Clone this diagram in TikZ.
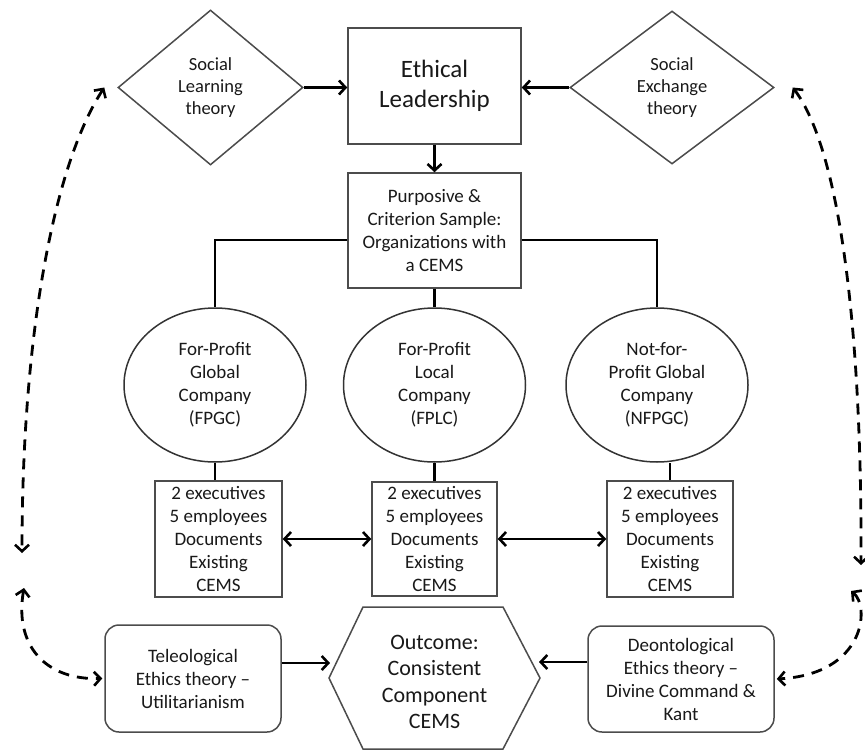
\documentclass[tikz,border=0pt]{standalone}
\usepackage{fontspec}
\setmainfont{Carlito}
\usetikzlibrary{shapes.geometric,arrows.meta,calc}
\begin{document}
\begin{tikzpicture}[x=1pt,y=-1pt,
  txt/.style={align=center,inner sep=0pt,text=black!90,font=\fontsize{19}{23}\selectfont},
  box/.style={txt,draw=black!70,line width=1.5pt,fill=white},
  rbox/.style={box,rounded corners=14pt},
  diam/.style={txt,diamond,draw=black!70,line width=1.5pt,fill=white,font=\fontsize{18.5}{21.7}\selectfont},
  ell/.style={txt,ellipse,draw=black!80,line width=1.5pt,fill=white,minimum width=182pt,minimum height=154pt},
  conn/.style={line width=2.8pt,black},
  tip/.tip={Straight Barb[length=6.5pt,width=14pt,line width=2.6pt]},
  arr/.style={conn,-tip},
  darr/.style={conn,tip-tip},
  dasharr/.style={darr,dash pattern=on 11pt off 8pt}]
\fill[white] (0,0) rectangle (865,752);
\useasboundingbox (0,0) rectangle (865,752);
% top row
\node[diam,minimum width=185pt,minimum height=155pt] (slt) at (210.5,87.5) {Social\\Learning\\theory};
\node[box,minimum width=173pt,minimum height=116pt,font=\fontsize{25}{30}\selectfont] (el) at (434.5,86) {Ethical\\Leadership};
\node[diam,minimum width=204pt,minimum height=153pt] (set) at (672,87.5) {Social\\Exchange\\theory};
% sample
\node[box,minimum width=173pt,minimum height=115pt] (pur) at (434.5,230.5) {Purposive \&\\Criterion Sample:\\Organizations with\\a CEMS};
% organisations
\node[ell] (c1) at (215,385) {For-Profit\\Global\\Company\\(FPGC)};
\node[ell] (c2) at (434.5,385) {For-Profit\\Local\\Company\\(FPLC)};
\node[ell] (c3) at (657,385) {Not-for-\\Profit Global\\Company\\(NFPGC)};
% data boxes
\node[box,minimum width=127pt,minimum height=116pt] (b1) at (218.5,539) {2 executives\\5 employees\\Documents\\Existing\\CEMS};
\node[box,minimum width=125pt,minimum height=114pt] (b2) at (434.5,539) {2 executives\\5 employees\\Documents\\Existing\\CEMS};
\node[box,minimum width=126pt,minimum height=116pt] (b3) at (670,539) {2 executives\\5 employees\\Documents\\Existing\\CEMS};
% bottom row
\node[rbox,minimum width=176pt,minimum height=107pt] (tel) at (193,678.5) {Teleological\\Ethics theory --\\Utilitarianism};
\node[rbox,minimum width=186pt,minimum height=106pt] (deo) at (681,679) {Deontological\\Ethics theory --\\Divine Command \&\\Kant};
\draw[draw=black!70,line width=1.5pt,fill=white] (363,607) -- (503,607) -- (540,678) -- (503,749) -- (363,749) -- (329,678) -- cycle;
\coordinate (hexW) at (330,678);
\coordinate (hexE) at (539,678);
\node[txt,font=\fontsize{22}{26.5}\selectfont] (out) at (434.5,682) {Outcome:\\Consistent\\Component\\CEMS};
% connectors
\draw[arr] (slt.east) -- (slt.east -| el.west);
\draw[arr] (set.west) -- (set.west -| el.east);
\draw[arr] (el.south) -- (pur.north);
\draw[conn] ([yshift=-9.5pt]pur.west) -| (c1.north);
\draw[conn] ([yshift=-9.5pt]pur.east) -| (c3.north);
\draw[conn] (pur.south) -- (c2.north);
\draw[conn] (c1.south) -- (c1.south |- b1.north);
\draw[conn] (c2.south) -- (c2.south |- b2.north);
\draw[conn] (b3.north) -- (b3.north |- c3.south);
\draw[darr] (b1.east) -- (b2.west);
\draw[darr] (b2.east) -- (b3.west);
\draw[arr] ([yshift=15.5pt]tel.east) -- ([yshift=15.5pt]tel.east -| hexW);
\draw[arr] ([yshift=17pt]deo.west) -- ([yshift=17pt]deo.west -| hexE);
% dashed theory links
\coordinate (lt) at (22,553);
\coordinate (lb) at (24,588);
\coordinate (rt) at (861,565);
\coordinate (rb) at (851,591);
\draw[dasharr] ([xshift=-13pt]slt.west) .. controls (55,163) and (22,330) .. (lt);
\draw[dasharr] (lb) .. controls (14,645) and (45,680) .. ([xshift=-2pt]tel.west);
\draw[dasharr] ([xshift=18pt]set.east) .. controls (840,150) and (862,330) .. (rt);
\draw[dasharr] (rb) .. controls (870,606) and (866,674) .. ([xshift=2pt]deo.east);
\end{tikzpicture}
\end{document}
